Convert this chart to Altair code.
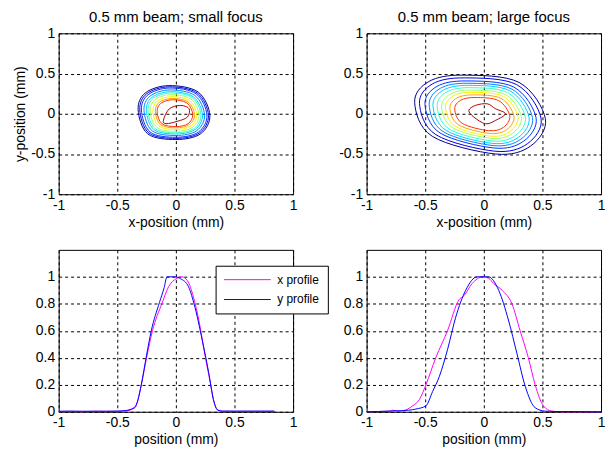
import altair as alt
import pandas as pd

FONT = "Liberation Sans"
FS = 14
TFS = 15

TITLES = ["0.5 mm beam; small focus", "0.5 mm beam; large focus"]
POS_TICKS = [-1, -0.5, 0, 0.5, 1]
PROF_TICKS = [0, 0.2, 0.4, 0.6, 0.8, 1]
SERIES = ["x profile", "y profile"]
SERIES_COLORS = ["#FF00FF", "#0000FF"]
LEVEL_COLORS = ["#00008F", "#0000DF", "#0030FF", "#0080FF", "#00CFFF", "#30FFCF",
                "#9FFF60", "#FFEF00", "#FF9F00", "#FF3000", "#AF0000"]

# contour lines (outer -> inner), small focus
small_contours = [
    [(-0.322, 0.05), (-0.26, 0.26), (-0.06, 0.35), (0.19, 0.27), (0.29, -0.02), (0.21, -0.25), (0.0, -0.32), (-0.24, -0.25)],
    [(-0.308, 0.048), (-0.249, 0.249), (-0.057, 0.335), (0.182, 0.258), (0.278, -0.019), (0.201, -0.239), (0.0, -0.306), (-0.23, -0.239)],
    [(-0.294, 0.046), (-0.237, 0.237), (-0.055, 0.32), (0.173, 0.247), (0.265, -0.018), (0.192, -0.228), (0.0, -0.292), (-0.219, -0.228)],
    [(-0.272, 0.042), (-0.22, 0.22), (-0.051, 0.296), (0.161, 0.228), (0.245, -0.017), (0.177, -0.211), (0.0, -0.27), (-0.203, -0.211)],
    [(-0.252, 0.039), (-0.204, 0.204), (-0.047, 0.274), (0.149, 0.211), (0.227, -0.016), (0.164, -0.196), (0.0, -0.251), (-0.188, -0.196)],
    [(-0.238, 0.037), (-0.192, 0.192), (-0.044, 0.259), (0.14, 0.2), (0.214, -0.015), (0.155, -0.185), (0.0, -0.236), (-0.177, -0.185)],
    [(-0.219, 0.034), (-0.177, 0.177), (-0.041, 0.238), (0.129, 0.184), (0.197, -0.014), (0.143, -0.17), (0.0, -0.218), (-0.163, -0.17)],
    [(-0.196, 0.03), (-0.158, 0.158), (-0.037, 0.213), (0.116, 0.164), (0.177, -0.012), (0.128, -0.152), (0.0, -0.195), (-0.146, -0.152)],
    [(-0.175, 0.028), (-0.142, 0.142), (-0.033, 0.19), (0.104, 0.147), (0.16, -0.011), (0.115, -0.136), (0.0, -0.175), (-0.131, -0.136)],
    [(-0.16, 0.025), (-0.129, 0.129), (-0.03, 0.174), (0.094, 0.134), (0.144, -0.01), (0.104, -0.124), (0.0, -0.159), (-0.119, -0.124)],
    [(-0.106, -0.08), (-0.056, 0.062), (0.042, 0.103), (0.113, 0.062), (0.098, -0.041), (0.014, -0.093), (-0.084, -0.123)],
]

# large focus
large_contours = [
    [(-0.59, 0.14), (-0.47, 0.40), (-0.18, 0.48), (0.30, 0.39), (0.525, -0.06), (0.40, -0.40), (0.10, -0.50), (-0.44, -0.28)],
    [(-0.549, 0.130), (-0.437, 0.372), (-0.167, 0.446), (0.279, 0.363), (0.488, -0.056), (0.372, -0.372), (0.093, -0.465), (-0.409, -0.260)],
    [(-0.502, 0.119), (-0.40, 0.34), (-0.153, 0.408), (0.255, 0.332), (0.446, -0.051), (0.34, -0.34), (0.085, -0.425), (-0.374, -0.238)],
    [(-0.466, 0.111), (-0.371, 0.316), (-0.142, 0.379), (0.237, 0.308), (0.415, -0.047), (0.316, -0.316), (0.079, -0.395), (-0.348, -0.221)],
    [(-0.434, 0.103), (-0.345, 0.294), (-0.132, 0.353), (0.221, 0.287), (0.386, -0.044), (0.294, -0.294), (0.074, -0.368), (-0.323, -0.206)],
    [(-0.398, 0.095), (-0.317, 0.27), (-0.122, 0.324), (0.203, 0.263), (0.354, -0.041), (0.27, -0.27), (0.068, -0.338), (-0.297, -0.189)],
    [(-0.36, 0.085), (-0.287, 0.244), (-0.11, 0.293), (0.183, 0.238), (0.32, -0.037), (0.244, -0.244), (0.061, -0.305), (-0.268, -0.171)],
    [(-0.327, 0.078), (-0.261, 0.222), (-0.1, 0.266), (0.167, 0.216), (0.291, -0.033), (0.222, -0.222), (0.056, -0.278), (-0.244, -0.155)],
    [(-0.289, 0.069), (-0.23, 0.196), (-0.088, 0.235), (0.147, 0.191), (0.257, -0.029), (0.196, -0.196), (0.049, -0.245), (-0.216, -0.137)],
    [(-0.248, 0.059), (-0.197, 0.168), (-0.076, 0.202), (0.126, 0.164), (0.221, -0.025), (0.168, -0.168), (0.042, -0.21), (-0.185, -0.118)],
    [(-0.128, 0.042), (-0.071, 0.104), (0.029, 0.124), (0.1, 0.062), (0.185, 0.0), (0.1, -0.082), (0.014, -0.124), (-0.085, -0.041)],
]

# profiles, small focus
small_x_pos = [-1.0, -0.9, -0.8, -0.7, -0.6, -0.5, -0.45, -0.4, -0.36, -0.33, -0.3, -0.25, -0.2, -0.12, -0.06,
               0.0, 0.05, 0.1, 0.15, 0.2, 0.24, 0.295, 0.33, 0.35, 0.4, 0.5, 0.6, 0.7, 0.84]
small_x_val = [0.0, 0.003, 0.0, 0.004, 0.003, 0.004, 0.005, 0.01, 0.03, 0.07, 0.18, 0.4, 0.6, 0.8, 0.93,
               0.985, 1.0, 0.97, 0.85, 0.66, 0.46, 0.21, 0.06, 0.02, 0.004, 0.003, 0.003, 0.003, 0.003]
small_y_pos = [-1.0, -0.9, -0.8, -0.7, -0.6, -0.5, -0.42, -0.38, -0.35, -0.323, -0.295, -0.25, -0.21, -0.14, -0.1,
               -0.076, 0.0, 0.03, 0.1, 0.155, 0.225, 0.28, 0.32, 0.36, 0.4, 0.5, 0.6, 0.7, 0.84]
small_y_val = [0.004, 0.005, 0.004, 0.004, 0.004, 0.005, 0.01, 0.02, 0.03, 0.09, 0.2, 0.42, 0.6, 0.81, 0.92,
               1.0, 1.0, 0.99, 0.94, 0.8, 0.53, 0.29, 0.09, 0.01, 0.005, 0.005, 0.005, 0.005, 0.005]

# profiles, large focus
large_x_pos = [-1.0, -0.9, -0.8, -0.776, -0.74, -0.72, -0.65, -0.607, -0.55, -0.494, -0.41, -0.31, -0.212, -0.17,
               -0.1, -0.01, 0.04, 0.085, 0.156, 0.24, 0.31, 0.38, 0.438, 0.508, 0.58, 0.66, 0.8, 1.0]
large_x_val = [0.0, 0.002, 0.004, 0.012, 0.005, 0.005, 0.02, 0.044, 0.09, 0.2, 0.4, 0.6, 0.83, 0.86,
               0.95, 1.0, 0.99, 0.95, 0.9, 0.8, 0.6, 0.4, 0.2, 0.044, 0.005, 0.0, 0.0, 0.0]
large_y_pos = [-1.0, -0.9, -0.78, -0.7, -0.58, -0.494, -0.437, -0.38, -0.31, -0.24, -0.155, -0.056, 0.04,
               0.127, 0.21, 0.283, 0.353, 0.438, 0.52, 0.6, 0.8, 1.0]
large_y_val = [0.0, 0.002, 0.006, 0.008, 0.02, 0.044, 0.15, 0.26, 0.46, 0.70, 0.9, 1.0, 1.0,
               0.9, 0.68, 0.43, 0.19, 0.03, 0.005, 0.002, 0.002, 0.0]

LABEL_EXPR = "(datum.value < 0 ? '-' : '') + toString(abs(datum.value))"


def contour_frame(contours):
    rows = []
    for ci, pts in enumerate(contours):
        for k, (x, y) in enumerate(pts):
            rows.append({"cid": ci, "idx": k, "x": x, "y": y, "col": LEVEL_COLORS[ci]})
    return pd.DataFrame(rows)


def profile_frame(xp, xv, yp, yv):
    rows = []
    for k, (p, v) in enumerate(zip(xp, xv)):
        rows.append({"series": SERIES[0], "idx": k, "pos": p, "val": v})
    for k, (p, v) in enumerate(zip(yp, yv)):
        rows.append({"series": SERIES[1], "idx": k, "pos": p, "val": v})
    return pd.DataFrame(rows)


def axis(values, title):
    kw = dict(values=values, grid=True, gridColor="black", gridDash=[3, 3], gridOpacity=1,
              gridWidth=1, domain=False, ticks=False, labelFlush=False, labelOverlap=False,
              labelExpr=LABEL_EXPR, labelPadding=4, titlePadding=3)
    kw["title"] = title if title else None
    return alt.Axis(**kw)


W, H = 236, 162


def contour_chart(contours, title, ytitle):
    return alt.Chart(contour_frame(contours)).mark_line(
        interpolate="cardinal-closed", strokeWidth=1
    ).encode(
        x=alt.X("x:Q", scale=alt.Scale(domain=[-1, 1], nice=False, zero=False),
                axis=axis(POS_TICKS, "x-position (mm)")),
        y=alt.Y("y:Q", scale=alt.Scale(domain=[-1, 1], nice=False, zero=False),
                axis=axis(POS_TICKS, ytitle)),
        detail="cid:N",
        order="idx:Q",
        color=alt.Color("col:N", scale=None),
    ).properties(width=W, height=H, title=alt.TitleParams(title, frame="group"))


def profile_chart(df, with_legend):
    if with_legend:
        color = alt.Color(
            "series:N",
            scale=alt.Scale(domain=SERIES, range=SERIES_COLORS),
            legend=alt.Legend(
                title=None, orient="none", legendX=158, legendY=16,
                symbolType="stroke", symbolSize=2209, symbolStrokeWidth=1,
                clipHeight=12, rowPadding=8, labelOffset=6, padding=8,
                strokeColor="black", fillColor="white", cornerRadius=0,
                labelFont=FONT, labelFontSize=12, labelColor="black",
            ),
        )
    else:
        color = alt.Color("series:N", scale=alt.Scale(domain=SERIES, range=SERIES_COLORS), legend=None)
    return alt.Chart(df).mark_line(strokeWidth=1, interpolate="monotone").encode(
        x=alt.X("pos:Q", scale=alt.Scale(domain=[-1, 1], nice=False, zero=False),
                axis=axis(POS_TICKS, "position (mm)")),
        y=alt.Y("val:Q", scale=alt.Scale(domain=[0, 1.2], nice=False, zero=False),
                axis=axis(PROF_TICKS, None)),
        color=color,
        order="idx:Q",
    ).properties(width=W, height=163)


tl = contour_chart(small_contours, TITLES[0], "y-position (mm)")
tr = contour_chart(large_contours, TITLES[1], None)
bl = profile_chart(profile_frame(small_x_pos, small_x_val, small_y_pos, small_y_val), True)
br = profile_chart(profile_frame(large_x_pos, large_x_val, large_y_pos, large_y_val), False)

chart = alt.concat(
    tl, tr, bl, br, columns=2, spacing={"row": 56, "column": 74}, bounds="flush"
).resolve_scale(color="independent").properties(
    padding={"left": 5, "top": 0, "right": 0, "bottom": 0},
    background="white",
).configure_view(
    stroke="black", strokeWidth=1
).configure_axis(
    labelFont=FONT, labelFontSize=FS, labelColor="black",
    titleFont=FONT, titleFontSize=FS, titleFontWeight="normal", titleColor="black",
).configure_title(
    font=FONT, fontSize=TFS, fontWeight="normal", color="black", offset=1
)

chart.save("out.html", embed_options={"renderer": "svg", "actions": False})
